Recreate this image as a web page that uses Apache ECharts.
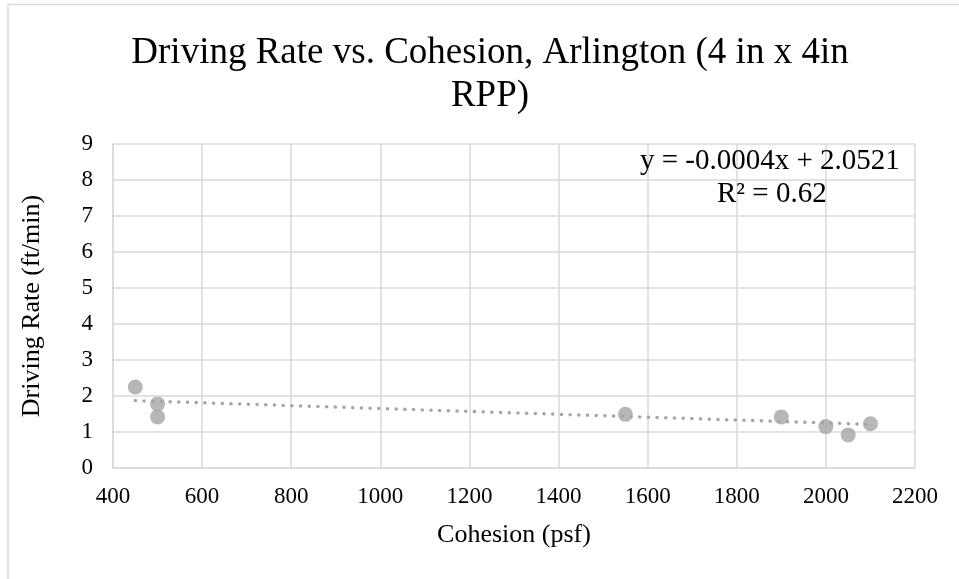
<!DOCTYPE html>
<html>
<head>
<meta charset="utf-8">
<script src="https://cdn.jsdelivr.net/npm/echarts@6/dist/echarts.min.js"></script>
<style>html,body{margin:0;padding:0;background:#fff;}#c{width:959px;height:579px;}</style>
</head>
<body>
<div id="c"></div>
<script>
var cohesion = [450, 500, 500, 1550, 1900, 2000, 2050, 2100];
var drivingRate = [2.25, 1.78, 1.42, 1.49, 1.42, 1.15, 0.92, 1.23];
var trendX = [450, 2100];
var trendY = [1.872, 1.212];
var titleLines = ['Driving Rate vs. Cohesion, Arlington (4 in x 4in', 'RPP)'];
var eqText = 'y = -0.0004x + 2.0521';
var r2Text = 'R² = 0.62';

var font = '"Liberation Serif", "Times New Roman", serif';
var chart = echarts.init(document.getElementById('c'), null, {renderer: 'canvas'});
chart.setOption({
  animation: false,
  backgroundColor: '#fff',
  grid: {left: 113, right: 44, top: 144, bottom: 111},
  xAxis: {
    type: 'value', min: 400, max: 2200, interval: 200,
    name: 'Cohesion (psf)', nameLocation: 'middle', nameGap: 54,
    nameTextStyle: {fontFamily: font, fontSize: 26, color: '#000'},
    axisLine: {show: true, lineStyle: {color: '#d9d9d9', width: 1.5}},
    axisTick: {show: false},
    axisLabel: {fontFamily: font, fontSize: 23, color: '#000', margin: 17, formatter: function (v) { return String(v); }},
    splitLine: {show: true, lineStyle: {color: '#d9d9d9', width: 1.5}}
  },
  yAxis: {
    type: 'value', min: 0, max: 9, interval: 1,
    name: 'Driving Rate (ft/min)', nameLocation: 'middle', nameGap: 68,
    nameTextStyle: {fontFamily: font, fontSize: 26, color: '#000'},
    axisLine: {show: true, lineStyle: {color: '#d9d9d9', width: 1.5}},
    axisTick: {show: false},
    axisLabel: {fontFamily: font, fontSize: 23, color: '#000', margin: 20, formatter: function (v) { return String(v); }},
    splitLine: {show: true, lineStyle: {color: '#d9d9d9', width: 1.5}}
  },
  graphic: [
    {type: 'line', shape: {x1: 8, y1: 4.5, x2: 959, y2: 4.5}, style: {stroke: '#d9d9d9', lineWidth: 1.5}, silent: true},
    {type: 'line', shape: {x1: 8, y1: 4.5, x2: 8, y2: 579}, style: {stroke: '#d9d9d9', lineWidth: 1.5}, silent: true},
    {type: 'text', x: 490, y: 32, z: 10, style: {text: titleLines.join('\n'), font: '37px ' + font, fill: '#000', align: 'center', verticalAlign: 'top', lineHeight: 43}},
    {type: 'text', left: 640, top: 147, z: 10, style: {text: eqText, font: '29px ' + font, fill: '#000'}},
    {type: 'text', left: 717, top: 180, z: 10, style: {text: r2Text, font: '29px ' + font, fill: '#000'}}
  ],
  series: [
    {
      type: 'scatter', data: cohesion.map(function (x, i) { return [x, drivingRate[i]]; }),
      symbol: 'circle', symbolSize: 15, itemStyle: {color: '#a5a5a5'}, z: 3
    },
    {
      type: 'line', data: trendX.map(function (x, i) { return [x, trendY[i]]; }),
      symbol: 'none', z: 2,
      lineStyle: {color: '#a5a5a5', width: 3.5, type: [0.1, 8.6], cap: 'round'}
    }
  ]
});
</script>
</body>
</html>
